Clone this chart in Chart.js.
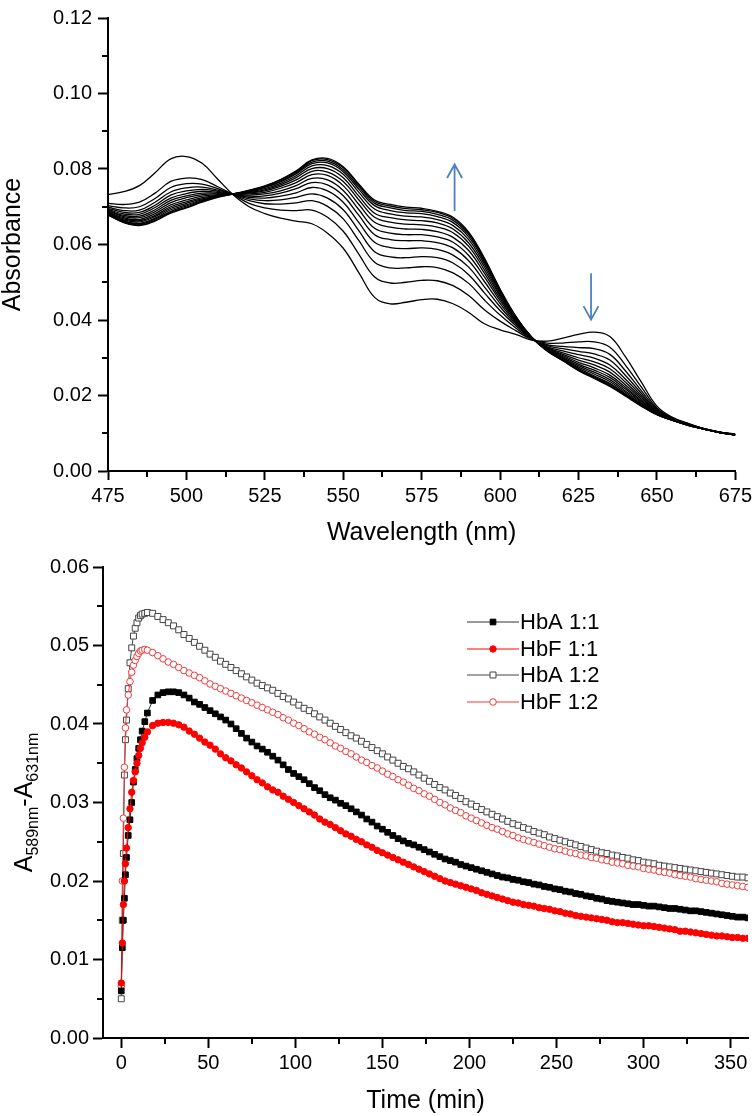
<!DOCTYPE html>
<html>
<head>
<meta charset="utf-8">
<title>Absorbance spectra and kinetics</title>
<script src="https://cdn.jsdelivr.net/npm/chart.js@4.4.1/dist/chart.umd.min.js"></script>
<style>
    html, body { margin: 0; padding: 0; background: #fff; }
    #wrap { position: relative; width: 756px; height: 1116px; overflow: hidden; }
    #spectra { position: absolute; left: 0; top: 0; }
    #kinetics { position: absolute; left: 0; top: 548px; }
</style>
</head>
<body>
<div id="wrap">
    <canvas id="spectra" width="756" height="548"></canvas>
    <canvas id="kinetics" width="756" height="568"></canvas>
</div>
<script>
// ---- top panel: spectra recorded during the reaction ----
var wavelengths = [475, 480, 485, 490, 495, 500, 505, 510, 515, 520,
    525, 530, 535, 540, 545, 550, 555, 560, 565, 570,
    575, 580, 585, 590, 595, 600, 605, 610, 615, 620,
    625, 630, 635, 640, 645, 650, 655, 660, 665, 670, 675];
var wlTicks = [475, 500, 525, 550, 575, 600, 625, 650, 675];
var wlMinor = [487.5, 512.5, 537.5, 562.5, 587.5, 612.5, 637.5, 662.5];
var absTicks = [0, 0.02, 0.04, 0.06, 0.08, 0.10, 0.12];
var absMinor = [0.01, 0.03, 0.05, 0.07, 0.09, 0.11];

var scan01 = [0.0732, 0.0740, 0.0756, 0.0790, 0.0827, 0.0833, 0.0815, 0.0773, 0.0731, 0.0700, 0.0682, 0.0670, 0.0662, 0.0655, 0.0630, 0.0590, 0.0525, 0.0460, 0.0443, 0.0447, 0.0454, 0.0455, 0.0443, 0.0420, 0.0390, 0.0374, 0.0362, 0.0347, 0.0344, 0.0352, 0.0362, 0.0368, 0.0356, 0.0302, 0.0236, 0.0172, 0.0142, 0.0126, 0.0112, 0.0103, 0.0098];
var scan02 = [0.0709, 0.0706, 0.0712, 0.0736, 0.0767, 0.0776, 0.0772, 0.0753, 0.0732, 0.0709, 0.0697, 0.0691, 0.0690, 0.0691, 0.0672, 0.0635, 0.0574, 0.0514, 0.0498, 0.0500, 0.0505, 0.0504, 0.0491, 0.0465, 0.0427, 0.0397, 0.0372, 0.0349, 0.0339, 0.0339, 0.0342, 0.0342, 0.0328, 0.0280, 0.0223, 0.0167, 0.0140, 0.0125, 0.0112, 0.0103, 0.0098];
var scan03 = [0.0703, 0.0697, 0.0700, 0.0722, 0.0751, 0.0761, 0.0760, 0.0748, 0.0732, 0.0716, 0.0708, 0.0707, 0.0710, 0.0716, 0.0701, 0.0668, 0.0610, 0.0553, 0.0538, 0.0538, 0.0541, 0.0539, 0.0525, 0.0497, 0.0453, 0.0413, 0.0379, 0.0350, 0.0335, 0.0330, 0.0327, 0.0324, 0.0309, 0.0265, 0.0213, 0.0164, 0.0139, 0.0124, 0.0112, 0.0103, 0.0097];
var scan04 = [0.0699, 0.0690, 0.0691, 0.0712, 0.0739, 0.0750, 0.0752, 0.0744, 0.0732, 0.0721, 0.0716, 0.0718, 0.0725, 0.0734, 0.0723, 0.0692, 0.0636, 0.0581, 0.0567, 0.0565, 0.0568, 0.0565, 0.0551, 0.0520, 0.0472, 0.0425, 0.0385, 0.0351, 0.0332, 0.0324, 0.0317, 0.0310, 0.0294, 0.0253, 0.0206, 0.0161, 0.0138, 0.0124, 0.0112, 0.0103, 0.0097];
var scan05 = [0.0696, 0.0685, 0.0685, 0.0704, 0.0731, 0.0742, 0.0746, 0.0741, 0.0733, 0.0725, 0.0723, 0.0728, 0.0737, 0.0751, 0.0742, 0.0712, 0.0658, 0.0606, 0.0592, 0.0589, 0.0591, 0.0587, 0.0572, 0.0540, 0.0488, 0.0435, 0.0389, 0.0352, 0.0329, 0.0318, 0.0308, 0.0299, 0.0281, 0.0243, 0.0200, 0.0159, 0.0137, 0.0123, 0.0111, 0.0103, 0.0097];
var scan06 = [0.0693, 0.0681, 0.0680, 0.0698, 0.0723, 0.0735, 0.0741, 0.0738, 0.0733, 0.0728, 0.0729, 0.0736, 0.0748, 0.0764, 0.0758, 0.0729, 0.0677, 0.0626, 0.0613, 0.0610, 0.0610, 0.0605, 0.0591, 0.0557, 0.0502, 0.0444, 0.0393, 0.0352, 0.0327, 0.0313, 0.0300, 0.0289, 0.0271, 0.0235, 0.0195, 0.0157, 0.0137, 0.0123, 0.0111, 0.0103, 0.0096];
var scan07 = [0.0691, 0.0677, 0.0675, 0.0692, 0.0717, 0.0729, 0.0736, 0.0736, 0.0733, 0.0731, 0.0734, 0.0742, 0.0756, 0.0775, 0.0771, 0.0743, 0.0692, 0.0643, 0.0630, 0.0626, 0.0626, 0.0620, 0.0606, 0.0571, 0.0514, 0.0451, 0.0396, 0.0353, 0.0326, 0.0309, 0.0294, 0.0281, 0.0262, 0.0228, 0.0191, 0.0156, 0.0136, 0.0122, 0.0111, 0.0102, 0.0096];
var scan08 = [0.0689, 0.0674, 0.0671, 0.0687, 0.0711, 0.0724, 0.0732, 0.0734, 0.0733, 0.0734, 0.0738, 0.0749, 0.0764, 0.0785, 0.0783, 0.0756, 0.0706, 0.0659, 0.0646, 0.0641, 0.0640, 0.0634, 0.0619, 0.0584, 0.0524, 0.0457, 0.0399, 0.0353, 0.0324, 0.0306, 0.0288, 0.0273, 0.0254, 0.0222, 0.0187, 0.0154, 0.0136, 0.0122, 0.0111, 0.0102, 0.0096];
var scan09 = [0.0686, 0.0671, 0.0666, 0.0682, 0.0705, 0.0718, 0.0728, 0.0732, 0.0733, 0.0736, 0.0742, 0.0754, 0.0771, 0.0794, 0.0792, 0.0767, 0.0718, 0.0672, 0.0659, 0.0654, 0.0652, 0.0646, 0.0631, 0.0595, 0.0533, 0.0463, 0.0401, 0.0354, 0.0323, 0.0303, 0.0283, 0.0267, 0.0248, 0.0217, 0.0184, 0.0153, 0.0135, 0.0122, 0.0111, 0.0102, 0.0096];
var scan10 = [0.0685, 0.0668, 0.0663, 0.0677, 0.0700, 0.0713, 0.0724, 0.0731, 0.0734, 0.0738, 0.0745, 0.0758, 0.0777, 0.0801, 0.0801, 0.0777, 0.0728, 0.0683, 0.0671, 0.0665, 0.0663, 0.0657, 0.0641, 0.0604, 0.0541, 0.0467, 0.0404, 0.0354, 0.0322, 0.0300, 0.0279, 0.0262, 0.0242, 0.0212, 0.0181, 0.0152, 0.0135, 0.0122, 0.0111, 0.0102, 0.0096];
var scan11 = [0.0683, 0.0665, 0.0660, 0.0674, 0.0696, 0.0709, 0.0721, 0.0729, 0.0734, 0.0740, 0.0748, 0.0762, 0.0782, 0.0808, 0.0809, 0.0786, 0.0738, 0.0694, 0.0681, 0.0675, 0.0673, 0.0666, 0.0650, 0.0613, 0.0548, 0.0472, 0.0405, 0.0354, 0.0321, 0.0298, 0.0275, 0.0257, 0.0237, 0.0208, 0.0178, 0.0151, 0.0135, 0.0122, 0.0111, 0.0102, 0.0096];
var scan12 = [0.0681, 0.0663, 0.0656, 0.0670, 0.0692, 0.0705, 0.0718, 0.0728, 0.0734, 0.0741, 0.0751, 0.0766, 0.0787, 0.0814, 0.0816, 0.0793, 0.0746, 0.0703, 0.0690, 0.0684, 0.0682, 0.0674, 0.0658, 0.0620, 0.0554, 0.0476, 0.0407, 0.0355, 0.0320, 0.0296, 0.0272, 0.0252, 0.0232, 0.0204, 0.0176, 0.0150, 0.0134, 0.0121, 0.0111, 0.0102, 0.0095];
var scan13 = [0.0680, 0.0661, 0.0654, 0.0667, 0.0688, 0.0702, 0.0716, 0.0727, 0.0734, 0.0742, 0.0752, 0.0768, 0.0790, 0.0818, 0.0821, 0.0798, 0.0752, 0.0709, 0.0697, 0.0690, 0.0688, 0.0680, 0.0664, 0.0626, 0.0558, 0.0478, 0.0408, 0.0355, 0.0319, 0.0294, 0.0269, 0.0249, 0.0229, 0.0202, 0.0174, 0.0150, 0.0134, 0.0121, 0.0111, 0.0102, 0.0095];
var scan14 = [0.0679, 0.0659, 0.0652, 0.0664, 0.0685, 0.0699, 0.0714, 0.0726, 0.0734, 0.0743, 0.0754, 0.0771, 0.0793, 0.0822, 0.0825, 0.0803, 0.0757, 0.0714, 0.0702, 0.0695, 0.0692, 0.0685, 0.0669, 0.0630, 0.0561, 0.0480, 0.0409, 0.0355, 0.0318, 0.0293, 0.0267, 0.0247, 0.0226, 0.0200, 0.0173, 0.0149, 0.0134, 0.0121, 0.0111, 0.0102, 0.0095];
var scan15 = [0.0678, 0.0658, 0.0650, 0.0662, 0.0683, 0.0697, 0.0712, 0.0725, 0.0734, 0.0744, 0.0755, 0.0772, 0.0795, 0.0824, 0.0828, 0.0806, 0.0760, 0.0718, 0.0706, 0.0699, 0.0696, 0.0688, 0.0672, 0.0633, 0.0564, 0.0482, 0.0410, 0.0355, 0.0318, 0.0292, 0.0266, 0.0245, 0.0224, 0.0198, 0.0172, 0.0149, 0.0134, 0.0121, 0.0111, 0.0102, 0.0095];

// arrows: [wavelength, tail absorbance, tip absorbance]
var arrowUp = [585.5, 0.0689, 0.0812];
var arrowDown = [629, 0.0524, 0.0401];

// ---- bottom panel: A589 - A631 versus time ----
var minutes = [0, 0.6, 1.2, 1.8, 2.4, 3, 4, 5, 6, 7, 8, 9, 10, 11, 12, 13.5, 15,
    18, 21, 24, 27, 30, 33, 36, 39, 42, 45,
    48, 51, 54, 57, 60, 63, 66, 69, 72, 75,
    78, 81, 84, 87, 90, 93, 96, 99, 102, 105,
    108, 111, 114, 117, 120, 123, 126, 129, 132, 135,
    138, 141, 144, 147, 150, 153, 156, 159, 162, 165,
    168, 171, 174, 177, 180, 183, 186, 189, 192, 195,
    198, 201, 204, 207, 210, 213, 216, 219, 222, 225,
    228, 231, 234, 237, 240, 243, 246, 249, 252, 255,
    258, 261, 264, 267, 270, 273, 276, 279, 282, 285,
    288, 291, 294, 297, 300, 303, 306, 309, 312, 315,
    318, 321, 324, 327, 330, 333, 336, 339, 342, 345,
    348, 351, 354, 357, 360];
var timeTicks = [0, 50, 100, 150, 200, 250, 300, 350];
var timeMinor = [25, 75, 125, 175, 225, 275, 325];
var diffTicks = [0, 0.01, 0.02, 0.03, 0.04, 0.05, 0.06];
var diffMinor = [0.005, 0.015, 0.025, 0.035, 0.045, 0.055];

var hbA11 = [0.0060, 0.0115, 0.0150, 0.0178, 0.0208, 0.0230, 0.0258, 0.0278, 0.0300, 0.0326, 0.0342, 0.0356, 0.0369, 0.0380, 0.0391, 0.0403, 0.0414,
    0.0430, 0.0437, 0.0440, 0.0441, 0.0441, 0.0440, 0.0437, 0.0433, 0.0428, 0.0425,
    0.0421, 0.0417, 0.0413, 0.0409, 0.0405, 0.0400, 0.0394, 0.0388, 0.0382, 0.0377,
    0.0372, 0.0368, 0.0364, 0.0359, 0.0354, 0.0348, 0.0342, 0.0337, 0.0333, 0.0329,
    0.0324, 0.0319, 0.0315, 0.0310, 0.0306, 0.0303, 0.0299, 0.0296, 0.0292, 0.0288,
    0.0284, 0.0279, 0.0275, 0.0270, 0.0266, 0.0262, 0.0258, 0.0254, 0.0251, 0.0248,
    0.0246, 0.0243, 0.0240, 0.0237, 0.0234, 0.0231, 0.0228, 0.0226, 0.0224, 0.0221,
    0.0219, 0.0217, 0.0215, 0.0213, 0.0211, 0.0209, 0.0207, 0.0205, 0.0204, 0.0202,
    0.0201, 0.0199, 0.0198, 0.0196, 0.0195, 0.0193, 0.0192, 0.0190, 0.0189, 0.0187,
    0.0186, 0.0184, 0.0183, 0.0181, 0.0180, 0.0178, 0.0177, 0.0175, 0.0174, 0.0173,
    0.0172, 0.0171, 0.0170, 0.0170, 0.0169, 0.0168, 0.0168, 0.0167, 0.0166, 0.0165,
    0.0165, 0.0164, 0.0163, 0.0162, 0.0162, 0.0161, 0.0160, 0.0159, 0.0158, 0.0157,
    0.0156, 0.0155, 0.0154, 0.0154, 0.0153];
var hbF11 = [0.0070, 0.0121, 0.0170, 0.0200, 0.0222, 0.0242, 0.0268, 0.0292, 0.0313, 0.0328, 0.0339, 0.0350, 0.0360, 0.0369, 0.0376, 0.0383, 0.0390,
    0.0398, 0.0401, 0.0402, 0.0402, 0.0401, 0.0399, 0.0396, 0.0391, 0.0387, 0.0382,
    0.0377, 0.0373, 0.0368, 0.0362, 0.0357, 0.0353, 0.0348, 0.0344, 0.0339, 0.0334,
    0.0329, 0.0325, 0.0320, 0.0316, 0.0313, 0.0308, 0.0304, 0.0300, 0.0296, 0.0292,
    0.0288, 0.0284, 0.0279, 0.0275, 0.0272, 0.0268, 0.0264, 0.0260, 0.0257, 0.0253,
    0.0250, 0.0246, 0.0243, 0.0239, 0.0236, 0.0233, 0.0230, 0.0227, 0.0224, 0.0221,
    0.0218, 0.0215, 0.0212, 0.0209, 0.0206, 0.0203, 0.0200, 0.0198, 0.0196, 0.0194,
    0.0192, 0.0190, 0.0188, 0.0185, 0.0183, 0.0181, 0.0179, 0.0177, 0.0175, 0.0173,
    0.0172, 0.0170, 0.0169, 0.0168, 0.0166, 0.0165, 0.0164, 0.0162, 0.0161, 0.0159,
    0.0158, 0.0156, 0.0155, 0.0154, 0.0153, 0.0152, 0.0151, 0.0150, 0.0148, 0.0147,
    0.0147, 0.0146, 0.0145, 0.0144, 0.0143, 0.0143, 0.0142, 0.0141, 0.0140, 0.0139,
    0.0138, 0.0136, 0.0136, 0.0135, 0.0134, 0.0133, 0.0132, 0.0131, 0.0130, 0.0130,
    0.0129, 0.0128, 0.0128, 0.0127, 0.0127];
var hbA12 = [0.0050, 0.0150, 0.0235, 0.0335, 0.0380, 0.0405, 0.0445, 0.0478, 0.0497, 0.0512, 0.0522, 0.0529, 0.0535, 0.0538, 0.0540, 0.0541, 0.0542,
    0.0541, 0.0537, 0.0533, 0.0529, 0.0525, 0.0520, 0.0514, 0.0509, 0.0504, 0.0499,
    0.0494, 0.0489, 0.0485, 0.0480, 0.0476, 0.0472, 0.0468, 0.0464, 0.0460, 0.0456,
    0.0452, 0.0449, 0.0446, 0.0443, 0.0439, 0.0435, 0.0432, 0.0428, 0.0424, 0.0420,
    0.0417, 0.0413, 0.0409, 0.0405, 0.0401, 0.0397, 0.0393, 0.0389, 0.0385, 0.0382,
    0.0378, 0.0374, 0.0370, 0.0366, 0.0362, 0.0358, 0.0354, 0.0350, 0.0346, 0.0343,
    0.0339, 0.0335, 0.0331, 0.0327, 0.0323, 0.0319, 0.0316, 0.0312, 0.0309, 0.0305,
    0.0301, 0.0298, 0.0295, 0.0291, 0.0288, 0.0285, 0.0282, 0.0279, 0.0276, 0.0273,
    0.0271, 0.0268, 0.0266, 0.0263, 0.0261, 0.0259, 0.0256, 0.0254, 0.0252, 0.0250,
    0.0248, 0.0246, 0.0244, 0.0242, 0.0240, 0.0238, 0.0236, 0.0235, 0.0233, 0.0232,
    0.0230, 0.0229, 0.0227, 0.0226, 0.0224, 0.0223, 0.0222, 0.0220, 0.0219, 0.0218,
    0.0217, 0.0216, 0.0215, 0.0214, 0.0213, 0.0212, 0.0211, 0.0210, 0.0209, 0.0208,
    0.0207, 0.0206, 0.0205, 0.0205, 0.0204];
var hbF12 = [0.0066, 0.0200, 0.0280, 0.0345, 0.0395, 0.0418, 0.0437, 0.0454, 0.0466, 0.0475, 0.0481, 0.0486, 0.0490, 0.0493, 0.0494, 0.0495, 0.0494,
    0.0491, 0.0487, 0.0483, 0.0479, 0.0476, 0.0472, 0.0468, 0.0465, 0.0462, 0.0459,
    0.0455, 0.0451, 0.0448, 0.0445, 0.0442, 0.0439, 0.0436, 0.0433, 0.0430, 0.0427,
    0.0424, 0.0421, 0.0418, 0.0415, 0.0412, 0.0408, 0.0405, 0.0401, 0.0398, 0.0394,
    0.0390, 0.0387, 0.0383, 0.0380, 0.0376, 0.0372, 0.0369, 0.0365, 0.0362, 0.0358,
    0.0354, 0.0351, 0.0347, 0.0344, 0.0340, 0.0336, 0.0333, 0.0329, 0.0326, 0.0322,
    0.0318, 0.0315, 0.0311, 0.0308, 0.0304, 0.0300, 0.0297, 0.0293, 0.0290, 0.0287,
    0.0283, 0.0280, 0.0277, 0.0274, 0.0271, 0.0268, 0.0266, 0.0263, 0.0260, 0.0258,
    0.0255, 0.0253, 0.0251, 0.0249, 0.0247, 0.0245, 0.0243, 0.0241, 0.0240, 0.0238,
    0.0236, 0.0235, 0.0233, 0.0232, 0.0230, 0.0229, 0.0227, 0.0226, 0.0224, 0.0223,
    0.0222, 0.0220, 0.0219, 0.0218, 0.0216, 0.0215, 0.0214, 0.0212, 0.0211, 0.0210,
    0.0208, 0.0207, 0.0206, 0.0205, 0.0203, 0.0202, 0.0201, 0.0200, 0.0199, 0.0197,
    0.0196, 0.0195, 0.0194, 0.0193, 0.0192];

var FONT = "'Liberation Sans', Arial, Helvetica, sans-serif";
Chart.defaults.font.family = FONT;
Chart.defaults.color = '#000';

function pairs(xs, ys) {
    return ys.map(function (v, i) { return { x: xs[i], y: v }; });
}

// linear axis with fixed tick list, outside ticks, no grid
function makeAxis(min, max, tickList, fmt, tickLen, pad, title, fitSize, isX) {
    return {
        type: 'linear',
        min: min,
        max: max,
        afterBuildTicks: function (scale) {
            scale.ticks = tickList.map(function (v) { return { value: v }; });
        },
        afterFit: function (scale) {
            if (isX) { scale.height = fitSize; } else { scale.width = fitSize; }
        },
        border: { display: true, color: '#000', width: 2 },
        grid: { drawOnChartArea: false, drawTicks: true, tickLength: tickLen, tickWidth: 2, tickColor: '#000', color: '#000' },
        ticks: {
            color: '#000',
            font: { family: FONT, size: 20 },
            padding: pad,
            maxRotation: 0,
            autoSkip: false,
            callback: fmt
        },
        title: title
    };
}

function minorTicks(xMinor, yMinor) {
    return {
        id: 'minorTicks',
        afterDraw: function (chart) {
            var ctx = chart.ctx, a = chart.chartArea;
            var xs = chart.scales.x, ys = chart.scales.y;
            ctx.save();
            ctx.strokeStyle = '#000';
            ctx.lineWidth = 2;
            ctx.beginPath();
            xMinor.forEach(function (v) {
                var px = Math.round(xs.getPixelForValue(v));
                ctx.moveTo(px, a.bottom);
                ctx.lineTo(px, a.bottom + 6);
            });
            yMinor.forEach(function (v) {
                var py = Math.round(ys.getPixelForValue(v));
                ctx.moveTo(a.left, py);
                ctx.lineTo(a.left - 6, py);
            });
            ctx.stroke();
            ctx.restore();
        }
    };
}

var arrows = {
    id: 'arrows',
    afterDatasetsDraw: function (chart) {
        var ctx = chart.ctx, xs = chart.scales.x, ys = chart.scales.y;
        ctx.save();
        ctx.strokeStyle = '#4f81bd';
        ctx.lineWidth = 1.8;
        [arrowUp, arrowDown].forEach(function (ar) {
            var x = xs.getPixelForValue(ar[0]);
            var y0 = ys.getPixelForValue(ar[1]);
            var y1 = ys.getPixelForValue(ar[2]);
            var dir = y1 < y0 ? 1 : -1;
            ctx.beginPath();
            ctx.moveTo(x, y0);
            ctx.lineTo(x, y1);
            ctx.moveTo(x - 7.5, y1 + dir * 13.5);
            ctx.lineTo(x, y1);
            ctx.lineTo(x + 7.5, y1 + dir * 13.5);
            ctx.stroke();
        });
        ctx.restore();
    }
};

var spectra = [scan01, scan02, scan03, scan04, scan05, scan06, scan07, scan08,
    scan09, scan10, scan11, scan12, scan13, scan14, scan15];

new Chart(document.getElementById('spectra'), {
    type: 'line',
    data: {
        datasets: spectra.map(function (vals) {
            return {
                data: pairs(wavelengths, vals),
                borderColor: '#000',
                borderWidth: 1.3,
                pointRadius: 0,
                tension: 0.4,
                fill: false
            };
        })
    },
    options: {
        responsive: false,
        animation: false,
        devicePixelRatio: 1,
        events: [],
        layout: { autoPadding: false, padding: { left: 0, top: 10, right: 16, bottom: 0 } },
        plugins: { legend: { display: false }, tooltip: { enabled: false } },
        scales: {
            x: makeAxis(475, 675, wlTicks, function (v) { return String(v); }, 9, 4,
                { display: true, text: 'Wavelength (nm)', color: '#000', font: { family: FONT, size: 25, lineHeight: 1.2 }, padding: 0 },
                77, true),
            y: makeAxis(0, 0.12, absTicks, function (v) { return v.toFixed(2); }, 10, 6,
                { display: true, text: 'Absorbance', color: '#000', font: { family: FONT, size: 25, lineHeight: 1.04 }, padding: { top: 0, bottom: 0 } },
                108, false)
        }
    },
    plugins: [minorTicks(wlMinor, absMinor), arrows]
});

// y title with subscripts, drawn rotated
var diffTitle = {
    id: 'diffTitle',
    afterDraw: function (chart) {
        var ctx = chart.ctx, a = chart.chartArea;
        var parts = [['A', 25, 0], ['589nm', 16, 6], ['-A', 25, 0], ['631nm', 16, 6]];
        var total = 0;
        ctx.save();
        parts.forEach(function (p) {
            ctx.font = p[1] + 'px ' + FONT;
            total += ctx.measureText(p[0]).width;
        });
        ctx.translate(32, (a.top + a.bottom) / 2);
        ctx.rotate(-Math.PI / 2);
        ctx.fillStyle = '#000';
        ctx.textBaseline = 'alphabetic';
        var x = -total / 2;
        parts.forEach(function (p) {
            ctx.font = p[1] + 'px ' + FONT;
            ctx.fillText(p[0], x, p[2]);
            x += ctx.measureText(p[0]).width;
        });
        ctx.restore();
    }
};

function drawMarker(ctx, ds, x, y) {
    var r = ds.pointRadius;
    ctx.fillStyle = ds.pointBackgroundColor;
    ctx.strokeStyle = ds.pointBorderColor;
    ctx.lineWidth = ds.pointBorderWidth;
    ctx.beginPath();
    if (ds.pointStyle === 'rect') {
        var h = r * Math.SQRT1_2;
        ctx.rect(x - h, y - h, 2 * h, 2 * h);
    } else {
        ctx.arc(x, y, r, 0, Math.PI * 2);
    }
    ctx.fill();
    ctx.stroke();
}

var legendBox = {
    id: 'legendBox',
    afterDraw: function (chart) {
        var ctx = chart.ctx, a = chart.chartArea;
        var x0 = a.left + 364, y0 = a.top + 55;
        ctx.save();
        chart.data.datasets.forEach(function (ds, i) {
            var y = Math.round(y0 + i * 26.7);
            ctx.strokeStyle = ds.borderColor;
            ctx.lineWidth = 1;
            ctx.beginPath();
            ctx.moveTo(x0, y);
            ctx.lineTo(x0 + 52, y);
            ctx.stroke();
            drawMarker(ctx, ds, x0 + 26, y);
            ctx.fillStyle = '#000';
            ctx.font = '22px ' + FONT;
            ctx.textAlign = 'left';
            ctx.textBaseline = 'middle';
            ctx.fillText(ds.label, x0 + 53, y + 1);
        });
        ctx.restore();
    }
};

function series(label, vals, style) {
    var ds = { label: label, data: pairs(minutes, vals), borderWidth: 1, tension: 0, fill: false, pointBorderWidth: 1, pointHoverRadius: 0 };
    Object.keys(style).forEach(function (k) { ds[k] = style[k]; });
    return ds;
}

new Chart(document.getElementById('kinetics'), {
    type: 'line',
    data: {
        datasets: [
            series('HbA 1:1', hbA11, { order: 1, borderColor: '#333333', pointStyle: 'rect', pointRadius: 4, pointBackgroundColor: '#000', pointBorderColor: '#000' }),
            series('HbF 1:1', hbF11, { order: 0, borderColor: '#ff0000', pointStyle: 'circle', pointRadius: 3.2, pointBackgroundColor: '#ff0000', pointBorderColor: '#ff0000' }),
            series('HbA 1:2', hbA12, { order: 3, borderColor: '#444444', pointStyle: 'rect', pointRadius: 4.2, pointBackgroundColor: '#ffffff', pointBorderColor: '#444444' }),
            series('HbF 1:2', hbF12, { order: 2, borderColor: '#ee3b3b', pointStyle: 'circle', pointRadius: 3.3, pointBackgroundColor: '#ffffff', pointBorderColor: '#ee3b3b' })
        ]
    },
    options: {
        responsive: false,
        animation: false,
        devicePixelRatio: 1,
        events: [],
        layout: { autoPadding: false, padding: { left: 0, top: 19, right: 8, bottom: 0 } },
        plugins: { legend: { display: false }, tooltip: { enabled: false } },
        scales: {
            x: makeAxis(-10.5, 360, timeTicks, function (v) { return String(v); }, 10, 3,
                { display: true, text: 'Time (min)', color: '#000', font: { family: FONT, size: 25, lineHeight: 1.2 }, padding: 0 },
                78, true),
            y: makeAxis(0, 0.06, diffTicks, function (v) { return v.toFixed(2); }, 10, 4,
                { display: false },
                103, false)
        }
    },
    plugins: [minorTicks(timeMinor, diffMinor), diffTitle, legendBox]
});
</script>
</body>
</html>
